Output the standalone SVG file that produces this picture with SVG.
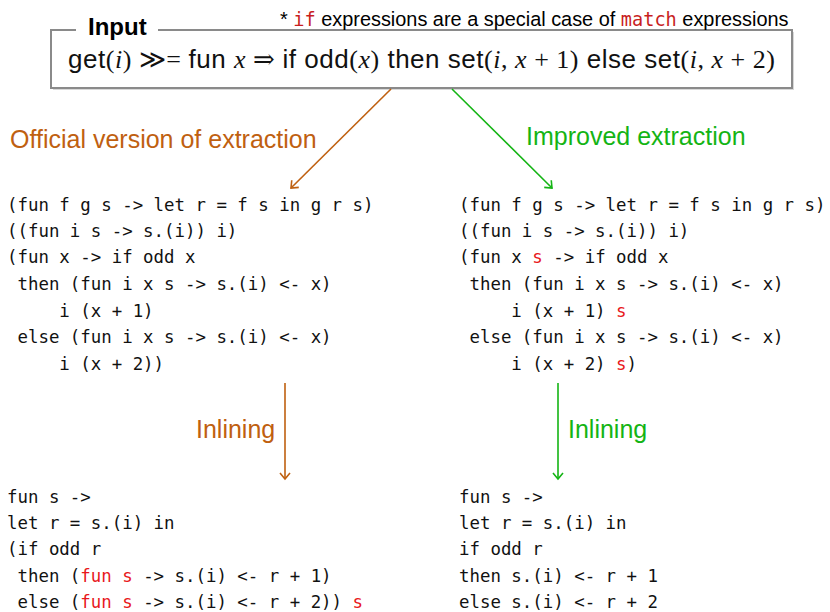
<svg xmlns="http://www.w3.org/2000/svg" width="830" height="612" viewBox="0 0 830 612">
<style>
.code{font-family:"DejaVu Sans Mono","Liberation Mono",monospace;font-size:17.4px;fill:#111;white-space:pre}
.red{fill:#e8171b}
.sans{font-family:"Liberation Sans",Arial,sans-serif}
.serif{font-family:"Liberation Serif","DejaVu Serif",serif}
.it{font-style:italic}
.org{fill:#bf6010}
.grn{fill:#14b414}
.lbl{font-family:"Liberation Sans",Arial,sans-serif;font-size:25px}
</style>
<defs>
<marker id="ao" markerWidth="12" markerHeight="12" refX="9" refY="6" orient="auto" markerUnits="userSpaceOnUse"><path d="M3,1 L9,6 L3,11" fill="none" stroke="#bf6010" stroke-width="1.6"/></marker>
<marker id="ag" markerWidth="12" markerHeight="12" refX="9" refY="6" orient="auto" markerUnits="userSpaceOnUse"><path d="M3,1 L9,6 L3,11" fill="none" stroke="#14b414" stroke-width="1.6"/></marker>
</defs>
<rect width="830" height="612" fill="#fff"/>
<g id="input">
<rect x="53" y="32" width="741" height="58" fill="#d8d8d8"/>
<rect x="51" y="30" width="741" height="58" fill="#fff" stroke="#8a8a8a" stroke-width="2"/>
<rect x="76" y="24" width="82" height="12" fill="#fff"/>
<text x="88" y="35" class="sans" font-weight="bold" font-size="24">Input</text>
<text x="280" y="26" class="sans" font-size="19.9">* <tspan font-family="DejaVu Sans Mono,monospace" fill="#c81e1e" font-size="18.6">if</tspan> expressions are a special case of <tspan font-family="DejaVu Sans Mono,monospace" fill="#c81e1e" font-size="18.6">match</tspan> expressions</text>
<text x="68" y="68" font-size="26" fill="#111" xml:space="preserve" textLength="707" lengthAdjust="spacing"><tspan class="sans">get</tspan><tspan class="serif">(</tspan><tspan class="serif it">i</tspan><tspan class="serif">) ≫= </tspan><tspan class="sans">fun </tspan><tspan class="serif it">x</tspan><tspan class="serif"> ⇒ </tspan><tspan class="sans">if odd</tspan><tspan class="serif">(</tspan><tspan class="serif it">x</tspan><tspan class="serif">)</tspan><tspan class="sans"> then set</tspan><tspan class="serif">(</tspan><tspan class="serif it">i</tspan><tspan class="serif">, </tspan><tspan class="serif it">x</tspan><tspan class="serif"> + 1)</tspan><tspan class="sans"> else set</tspan><tspan class="serif">(</tspan><tspan class="serif it">i</tspan><tspan class="serif">, </tspan><tspan class="serif it">x</tspan><tspan class="serif"> + 2)</tspan></text>
</g>
<g id="official">
<text class="code" x="7" y="211">(fun f g s -&gt; let r = f s in g r s)</text>
<text class="code" x="7" y="237">((fun i s -&gt; s.(i)) i)</text>
<text class="code" x="7" y="263">(fun x -&gt; if odd x</text>
<text class="code" x="7" y="290"> then (fun i x s -&gt; s.(i) &lt;- x)</text>
<text class="code" x="7" y="317">     i (x + 1)</text>
<text class="code" x="7" y="343"> else (fun i x s -&gt; s.(i) &lt;- x)</text>
<text class="code" x="7" y="370">     i (x + 2))</text>
</g>
<g id="improved">
<text class="code" x="459" y="211">(fun f g s -&gt; let r = f s in g r s)</text>
<text class="code" x="459" y="237">((fun i s -&gt; s.(i)) i)</text>
<text class="code" x="459" y="263">(fun x <tspan class="red">s</tspan> -&gt; if odd x</text>
<text class="code" x="459" y="290"> then (fun i x s -&gt; s.(i) &lt;- x)</text>
<text class="code" x="459" y="317">     i (x + 1) <tspan class="red">s</tspan></text>
<text class="code" x="459" y="343"> else (fun i x s -&gt; s.(i) &lt;- x)</text>
<text class="code" x="459" y="370">     i (x + 2) <tspan class="red">s</tspan>)</text>
</g>
<g id="official-inlined">
<text class="code" x="7" y="503">fun s -&gt;</text>
<text class="code" x="7" y="529">let r = s.(i) in</text>
<text class="code" x="7" y="555">(if odd r</text>
<text class="code" x="7" y="582"> then (<tspan class="red">fun s</tspan> -&gt; s.(i) &lt;- r + 1)</text>
<text class="code" x="7" y="608"> else (<tspan class="red">fun s</tspan> -&gt; s.(i) &lt;- r + 2)) <tspan class="red">s</tspan></text>
</g>
<g id="improved-inlined">
<text class="code" x="459" y="503">fun s -&gt;</text>
<text class="code" x="459" y="529">let r = s.(i) in</text>
<text class="code" x="459" y="555">if odd r</text>
<text class="code" x="459" y="582">then s.(i) &lt;- r + 1</text>
<text class="code" x="459" y="608">else s.(i) &lt;- r + 2</text>
</g>
<g id="connectors" fill="none" stroke-width="1.6">
<line x1="391" y1="89" x2="291" y2="188" stroke="#bf6010" marker-end="url(#ao)"/>
<line x1="452" y1="89" x2="552" y2="188" stroke="#14b414" marker-end="url(#ag)"/>
<line x1="285" y1="383" x2="285" y2="479" stroke="#bf6010" marker-end="url(#ao)"/>
<line x1="558" y1="383" x2="558" y2="479" stroke="#14b414" marker-end="url(#ag)"/>
<text x="10" y="148" class="lbl org" stroke="none">Official version of extraction</text>
<text x="526" y="145" class="lbl grn" stroke="none">Improved extraction</text>
<text x="196" y="438" class="lbl org" stroke="none">Inlining</text>
<text x="568" y="438" class="lbl grn" stroke="none">Inlining</text>
</g>
</svg>
